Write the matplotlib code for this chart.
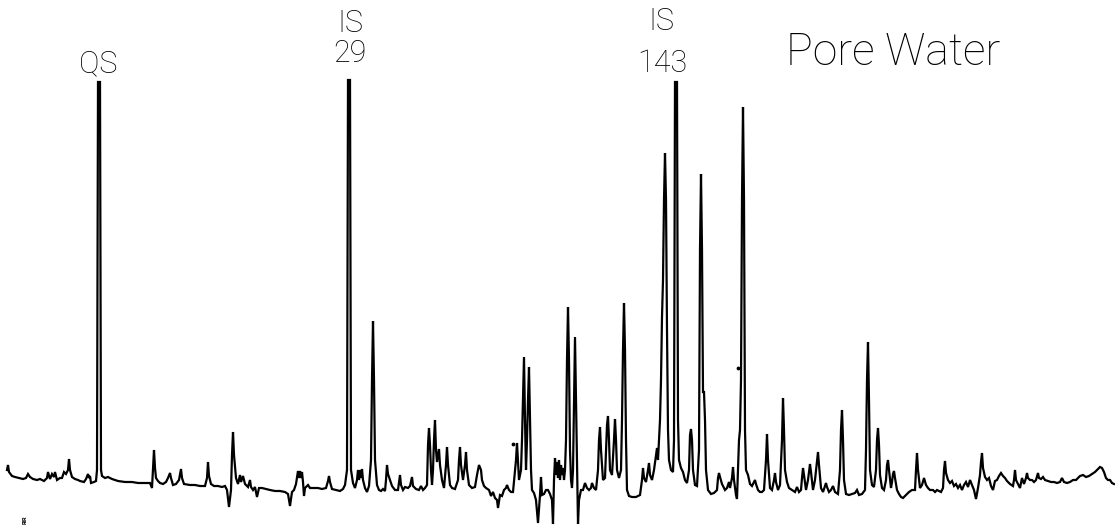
import matplotlib
matplotlib.use("Agg")
from matplotlib import pyplot as plt

# chromatogram trace: retention position and pen deflection
# (pen deflection measured downward from the top of the paper)
rt = [7, 8, 9, 12, 15, 19, 23, 26, 28, 30, 33, 37, 40, 44, 47, 48, 50, 52, 54, 55, 57, 60, 62, 64, 66, 68, 69, 70, 72, 75,
      78, 80, 84, 86, 88, 89, 90, 91, 94, 96, 97, 98, 100, 101, 102, 105, 108, 112, 118, 125, 132, 138, 145, 150, 152, 153,
      154, 155, 156, 158, 160, 163, 166, 168, 170, 171, 173, 176, 179, 181, 182, 184, 190, 195, 200, 205, 207, 208, 209, 211,
      214, 218, 222, 225, 227, 229, 231, 232, 233, 234, 236, 238, 240, 241, 243, 245, 248, 250, 251, 253, 255, 257, 259, 262,
      266, 270, 275, 280, 285, 288, 290, 292, 294, 296, 298, 299, 300, 301, 302, 303, 304, 305, 308, 310, 314, 318, 322, 326,
      328, 329, 330, 332, 336, 340, 343, 345, 347, 348, 350, 351, 353, 355, 357, 358, 359, 360, 361, 362, 363, 365, 367, 369,
      371, 372, 373, 374, 375, 377, 379, 381, 383, 385, 386, 387, 388, 390, 392, 395, 398, 400, 401, 403, 405, 408, 410, 412,
      413, 416, 419, 421, 423, 425, 427, 428, 429, 430, 431, 432, 433, 434, 435, 436, 437, 438, 439, 440, 442, 444, 446, 447,
      448, 450, 452, 455, 458, 459, 460, 461, 463, 465, 466, 467, 469, 472, 475, 477, 479, 481, 482, 484, 486, 489, 491, 493,
      495, 497, 498, 500, 502, 504, 506, 507, 509, 511, 513, 515, 516, 517, 518, 519, 521, 522, 523, 524, 525, 526, 527, 528,
      529, 530, 531, 532, 534, 536, 538, 540, 541, 542, 544, 546, 548, 550, 552, 553, 554, 555, 556, 557, 558, 559, 560, 561,
      562, 563, 564, 565, 566, 567, 568, 569, 570, 571, 572, 573, 574, 575, 576, 577, 578, 579, 581, 583, 585, 587, 589, 591,
      592, 594, 596, 598, 599, 600, 601, 603, 605, 606, 607, 608, 609, 610, 612, 614, 615, 616, 617, 619, 621, 622, 623, 624,
      625, 626, 627, 629, 632, 636, 640, 642, 643, 644, 646, 648, 649, 650, 652, 654, 656, 657, 658, 659, 660, 661, 662, 663,
      664, 665, 666, 667, 668, 669, 671, 673, 674, 675, 677, 678, 679, 681, 683, 685, 687, 689, 690, 691, 692, 693, 695, 697,
      699, 700, 701, 702, 703, 704, 705, 706, 708, 711, 714, 717, 718, 719, 720, 722, 725, 727, 729, 730, 732, 733, 734, 736,
      737, 738, 739, 740, 741, 742, 743, 744, 745, 746, 748, 750, 752, 754, 755, 756, 758, 760, 762, 764, 766, 767, 768, 770,
      772, 774, 775, 776, 778, 780, 782, 783, 784, 785, 787, 789, 792, 795, 797, 799, 801, 802, 803, 804, 806, 808, 810, 811,
      813, 815, 817, 818, 819, 821, 823, 825, 826, 827, 829, 831, 833, 835, 838, 840, 841, 842, 843, 844, 846, 849, 852, 855,
      857, 859, 862, 865, 866, 867, 868, 869, 870, 872, 874, 876, 877, 878, 879, 880, 882, 884, 886, 887, 888, 889, 891, 892,
      893, 894, 895, 897, 899, 901, 903, 905, 907, 909, 912, 915, 916, 917, 918, 920, 922, 924, 926, 928, 930, 933, 935, 937,
      939, 941, 943, 944, 945, 946, 948, 950, 952, 954, 956, 958, 960, 962, 964, 966, 968, 970, 972, 974, 976, 978, 980, 981,
      982, 983, 985, 987, 989, 991, 993, 995, 997, 999, 1001, 1003, 1005, 1007, 1010, 1013, 1014, 1015, 1016, 1018, 1020, 1022,
      1024, 1026, 1027, 1028, 1030, 1032, 1034, 1036, 1038, 1039, 1041, 1043, 1045, 1048, 1051, 1054, 1057, 1060, 1062, 1064,
      1067, 1070, 1073, 1076, 1078, 1080, 1083, 1086, 1089, 1092, 1095, 1098, 1100, 1102, 1104, 1106, 1108, 1110, 1112, 1114]
pen = [470, 465, 472, 476, 477, 478, 479, 478, 474, 477, 479, 480, 479, 481, 478, 472, 479, 474, 477, 472, 480, 478, 478, 472,
       474, 470, 459, 470, 477, 479, 480, 481, 482, 479, 474, 478, 476, 483, 482, 481, 470, 82, 82, 470, 476, 478, 477, 479,
       481, 482, 482, 483, 483, 483, 488, 470, 450, 468, 478, 481, 483, 484, 482, 478, 473, 478, 485, 484, 480, 469, 478, 484,
       485, 485, 486, 486, 478, 462, 476, 484, 486, 486, 487, 486, 490, 507, 490, 455, 432, 455, 478, 484, 475, 482, 476, 484,
       487, 480, 487, 490, 487, 497, 488, 488, 489, 490, 491, 491, 492, 494, 506, 492, 490, 484, 471, 478, 471, 478, 472, 482,
       496, 488, 485, 488, 488, 488, 489, 488, 481, 476, 482, 489, 490, 491, 489, 485, 470, 80, 80, 470, 483, 488, 480, 470,
       480, 470, 478, 469, 480, 488, 492, 486, 460, 380, 321, 380, 460, 485, 490, 491, 489, 491, 480, 465, 474, 480, 486, 490,
       490, 475, 485, 490, 487, 488, 486, 477, 486, 489, 490, 486, 490, 488, 485, 445, 428, 445, 470, 485, 470, 440, 420, 450,
       462, 455, 449, 465, 480, 488, 465, 447, 465, 485, 488, 489, 480, 460, 447, 465, 480, 465, 452, 470, 485, 488, 487, 475,
       465, 470, 480, 486, 488, 490, 496, 492, 498, 500, 508, 495, 496, 490, 488, 485, 490, 492, 492, 470, 460, 443, 462, 480,
       470, 440, 400, 357, 420, 470, 440, 400, 367, 420, 470, 490, 493, 500, 523, 495, 477, 495, 494, 490, 490, 494, 500, 524,
       480, 458, 475, 462, 478, 460, 480, 465, 475, 468, 480, 470, 440, 360, 307, 360, 450, 480, 488, 470, 400, 337, 400, 470,
       524, 500, 490, 490, 483, 488, 490, 488, 483, 488, 490, 470, 440, 427, 450, 480, 478, 450, 425, 416, 440, 470, 475, 440,
       419, 440, 470, 478, 470, 420, 350, 303, 350, 440, 490, 496, 497, 497, 495, 480, 468, 478, 482, 470, 463, 475, 480, 470,
       455, 448, 460, 440, 420, 380, 317, 280, 200, 153, 200, 330, 430, 460, 470, 472, 440, 82, 82, 420, 460, 468, 472, 480,
       483, 470, 435, 429, 440, 470, 485, 486, 450, 250, 174, 250, 392, 392, 420, 470, 490, 494, 493, 490, 478, 473, 477, 484,
       490, 488, 482, 488, 478, 467, 480, 495, 499, 470, 440, 430, 380, 200, 107, 200, 430, 470, 475, 484, 486, 482, 480, 484,
       490, 492, 492, 490, 460, 434, 460, 488, 490, 480, 473, 482, 490, 485, 440, 398, 430, 470, 482, 488, 490, 492, 487, 492,
       490, 478, 468, 475, 490, 480, 464, 472, 490, 480, 462, 452, 465, 488, 492, 486, 483, 487, 492, 490, 486, 492, 494, 470,
       430, 410, 440, 480, 494, 495, 494, 493, 490, 495, 494, 490, 450, 380, 342, 400, 470, 485, 487, 470, 440, 428, 445, 475,
       488, 490, 480, 465, 460, 470, 488, 482, 474, 471, 478, 490, 494, 497, 498, 496, 494, 492, 490, 490, 470, 453, 470, 488,
       485, 478, 485, 488, 490, 490, 492, 490, 491, 492, 488, 470, 461, 473, 480, 483, 481, 486, 484, 488, 485, 490, 485, 482,
       487, 480, 485, 490, 499, 488, 475, 462, 453, 468, 477, 480, 478, 486, 490, 481, 480, 476, 473, 476, 478, 481, 484, 486,
       480, 470, 480, 484, 488, 478, 484, 478, 473, 478, 480, 480, 482, 480, 473, 478, 479, 477, 480, 481, 482, 482, 483, 482,
       478, 482, 483, 482, 480, 480, 478, 476, 475, 477, 476, 474, 472, 469, 467, 468, 472, 478, 480, 480, 483, 484]

# stray specks on the paper
speck_rt = [513, 738]
speck_pen = [444, 368]

# peak annotations, one text per line: label, retention position, centre height
label_text = ["QS", "IS", "29", "IS", "143"]
label_rt = [98, 350, 350, 661, 662]
label_pen = [64, 23, 53, 21, 63]

fig = plt.figure(figsize=(11.15, 5.27), dpi=100)
ax = fig.add_axes([0, 0, 1, 1])
ax.plot(rt, pen, color="black", linewidth=1.6, solid_joinstyle="miter")
ax.scatter(speck_rt, speck_pen, s=3, color="black")

font = ["Roboto", "DejaVu Sans"]
for lab, x, y in zip(label_text, label_rt, label_pen):
    ax.text(x, y, lab, ha="center", va="center", fontsize=22, family=font,
            fontweight="light")
ax.text(893, 53, "Pore Water", ha="center", va="center", fontsize=32, family=font,
        fontweight="light")
ax.text(25, 520, "RIR", rotation=90, ha="center", va="center", fontsize=4,
        family=font, fontweight="bold")

ax.set_xlim(0, 1115)
ax.set_ylim(527, 0)
ax.axis("off")
fig.savefig("out.png", dpi=100)
